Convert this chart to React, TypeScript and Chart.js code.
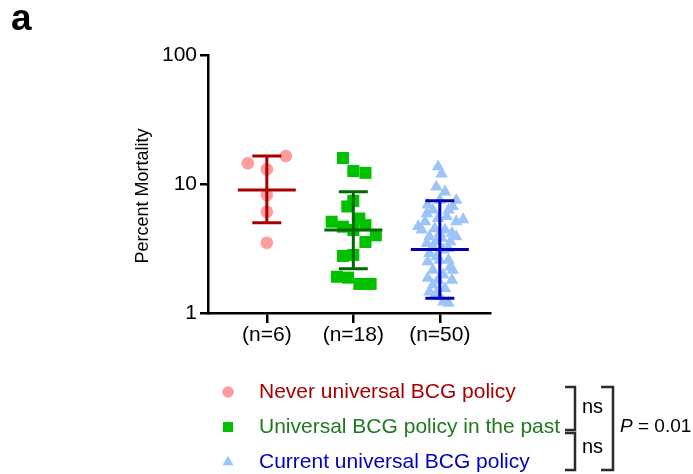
import React, { useEffect, useRef } from 'react';
import { Chart, registerables } from 'chart.js';

Chart.register(...registerables);

const FONT = "'Liberation Sans', Arial, sans-serif";

// Categories / tick labels
const categories = ['(n=6)', '(n=18)', '(n=50)'];
const yTickValues = [1, 10, 100];
const yTitle = 'Percent Mortality';
const panelLabel = 'a';

// Series: values (percent mortality) and horizontal jitter (in category units)
const neverValues = [14.5, 16.5, 13.0, 8.2, 6.1, 3.5];
const neverJitter = [-0.22, 0.22, 0, 0, 0, 0];

const pastValues = [15.9, 12.6, 12.2, 7.4, 6.7, 5.1, 5.4, 4.67, 4.8, 4.4, 4.0, 3.55, 2.77, 2.82, 1.91, 1.88, 1.68, 1.68];
const pastJitter = [-0.12, 0, 0.14, 0, -0.07, -0.25, 0.07, -0.12, 0.14, 0, 0.26, 0.14, -0.12, 0, -0.19, -0.06, 0.07, 0.2];

const currentValues = [
  13.6, 12.0, 9.5, 8.7, 7.5, 6.9, 6.3, 6.3, 6.7, 5.3,
  5.1, 4.7, 5.1, 4.5, 4.4, 4.15, 3.9, 3.8, 3.57, 3.27,
  3.08, 2.9, 2.73, 2.57, 2.28, 2.15, 1.97, 1.86, 1.8, 1.65,
  1.46, 1.34, 1.19, 1.22, 7.5, 5.9, 5.6, 5.4, 4.4, 4.15,
  3.9, 3.57, 3.47, 3.17, 2.57, 2.5, 2.15, 1.8, 1.55, 1.42,
];
const currentJitter = [
  -0.02, 0.02, -0.04, 0.06, 0.19, -0.14, -0.08, 0.1, 0.15, 0.27,
  0.19, -0.25, -0.17, -0.06, 0.06, 0.14, -0.12, 0.02, 0.12, -0.08,
  0.04, -0.12, -0.04, 0.1, 0.12, -0.08, 0.04, -0.14, 0.14, -0.08,
  -0.12, 0, 0.1, 0.04, 0, -0.15, 0.08, -0.02, -0.21, 0,
  0.19, -0.04, -0.15, 0.1, 0, -0.14, 0.15, -0.02, 0.06, -0.04,
];

// Summary: centre line and error bars
const groupMeans = [9.0, 4.4, 3.1];
const groupUpper = [16.5, 8.7, 7.4];
const groupLower = [5.0, 2.2, 1.3];

// Legend and comparisons
const legendLabels = ['Never universal BCG policy', 'Universal BCG policy in the past', 'Current universal BCG policy'];
const pairComparisons = ['ns', 'ns'];
const overallP = '0.01';

const markerColors = ['#FF9C9C', '#00C000', '#9CC4F8'];
const barColors = ['#A80000', '#006A00', '#0000B0'];
const textColors = ['#A80000', '#1F7A1F', '#0000C0'];
const pointStyles = ['circle', 'rect', 'triangle'];
const pointRadii = [6.3, 8.5, 7.2];

const seriesValues = [neverValues, pastValues, currentValues];
const seriesJitter = [neverJitter, pastJitter, currentJitter];

function drawMarker(ctx: CanvasRenderingContext2D, style: string, x: number, y: number, color: string) {
  ctx.fillStyle = color;
  ctx.beginPath();
  if (style === 'circle') {
    ctx.arc(x, y, 5.8, 0, Math.PI * 2);
  } else if (style === 'rect') {
    ctx.rect(x - 5, y - 5, 10, 10);
  } else {
    const r = 6.3;
    ctx.moveTo(x, y - r);
    ctx.lineTo(x + r * Math.sin((2 * Math.PI) / 3), y + r / 2);
    ctx.lineTo(x - r * Math.sin((2 * Math.PI) / 3), y + r / 2);
    ctx.closePath();
  }
  ctx.fill();
}

const overlayPlugin = {
  id: 'overlay',
  afterDatasetsDraw(chart: any) {
    const { ctx } = chart;
    const xs = chart.scales.x;
    const ys = chart.scales.y;
    ctx.save();
    ctx.lineWidth = 3;
    ctx.lineCap = 'butt';
    groupMeans.forEach((m, i) => {
      const cx = xs.getPixelForValue(i + 1);
      const ym = ys.getPixelForValue(m);
      const yu = ys.getPixelForValue(groupUpper[i]);
      const yl = ys.getPixelForValue(groupLower[i]);
      ctx.strokeStyle = barColors[i];
      ctx.beginPath();
      ctx.moveTo(cx, yu);
      ctx.lineTo(cx, yl);
      ctx.moveTo(cx - 14.5, yu);
      ctx.lineTo(cx + 14.5, yu);
      ctx.moveTo(cx - 14.5, yl);
      ctx.lineTo(cx + 14.5, yl);
      ctx.moveTo(cx - 29, ym);
      ctx.lineTo(cx + 29, ym);
      ctx.stroke();
    });
    ctx.restore();
  },
  afterDraw(chart: any) {
    const { ctx } = chart;
    ctx.save();
    // panel label
    ctx.fillStyle = '#000';
    ctx.font = `bold 37px ${FONT}`;
    ctx.textAlign = 'left';
    ctx.textBaseline = 'alphabetic';
    ctx.fillText(panelLabel, 11, 30);

    // y-axis title
    ctx.save();
    ctx.translate(143.5, 196);
    ctx.rotate(-Math.PI / 2);
    ctx.font = `18px ${FONT}`;
    ctx.textAlign = 'center';
    ctx.textBaseline = 'middle';
    ctx.fillText(yTitle, 0, 0);
    ctx.restore();

    // legend
    const rowsY = [392, 427, 462];
    ctx.font = `21px ${FONT}`;
    ctx.textAlign = 'left';
    ctx.textBaseline = 'middle';
    legendLabels.forEach((lab, i) => {
      drawMarker(ctx, pointStyles[i], 228, rowsY[i], markerColors[i]);
      ctx.fillStyle = textColors[i];
      ctx.fillText(lab, 259, rowsY[i]);
    });

    // brackets
    ctx.strokeStyle = '#2b2b2b';
    ctx.lineWidth = 2.5;
    ctx.lineCap = 'butt';
    ctx.lineJoin = 'miter';
    const bracket = (x0: number, x1: number, y0: number, y1: number) => {
      ctx.beginPath();
      ctx.moveTo(x0, y0);
      ctx.lineTo(x1, y0);
      ctx.lineTo(x1, y1);
      ctx.lineTo(x0, y1);
      ctx.stroke();
    };
    bracket(565, 575, 387, 430);
    bracket(565, 575, 433, 470);
    bracket(601, 613, 387, 470);

    ctx.fillStyle = '#000';
    ctx.font = `20px ${FONT}`;
    ctx.textAlign = 'left';
    ctx.fillText(pairComparisons[0], 582, 407);
    ctx.fillText(pairComparisons[1], 582, 447);

    ctx.font = `italic 19px ${FONT}`;
    ctx.fillText('P', 620, 427);
    const pw = ctx.measureText('P').width;
    ctx.font = `19px ${FONT}`;
    ctx.fillText(` = ${overallP}`, 620 + pw, 427);
    ctx.restore();
  },
};

export default function App() {
  const canvasRef = useRef<HTMLCanvasElement | null>(null);

  useEffect(() => {
    if (!canvasRef.current) return;
    Chart.defaults.font.family = FONT;
    const datasets = seriesValues.map((vals, s) => ({
      label: legendLabels[s],
      data: vals.map((v, i) => ({ x: s + 1 + seriesJitter[s][i], y: v })),
      pointStyle: pointStyles[s] as any,
      pointRadius: pointRadii[s],
      pointBackgroundColor: markerColors[s],
      pointBorderWidth: 0,
      backgroundColor: markerColors[s],
      borderColor: markerColors[s],
      borderWidth: 0,
      showLine: false,
    }));

    const chart = new Chart(canvasRef.current, {
      type: 'scatter',
      data: { datasets },
      options: {
        responsive: false,
        animation: false,
        devicePixelRatio: 1,
        layout: { padding: { left: 0, top: 55, right: 203, bottom: 0 } },
        plugins: { legend: { display: false }, tooltip: { enabled: false } },
        scales: {
          x: {
            type: 'linear',
            min: 0.32,
            max: 3.58,
            afterBuildTicks: (s: any) => {
              s.ticks = categories.map((_, i) => ({ value: i + 1 }));
            },
            afterFit: (s: any) => {
              s.height = 161;
            },
            ticks: {
              callback: (v: any) => categories[Math.round(Number(v)) - 1] ?? '',
              font: { size: 21, family: FONT },
              color: '#000',
              padding: 0,
              maxRotation: 0,
              autoSkip: false,
            },
            grid: { display: true, drawOnChartArea: false, drawTicks: true, tickLength: 10, color: '#000', lineWidth: 2.5 },
            border: { display: true, color: '#000', width: 2.5 },
          },
          y: {
            type: 'logarithmic',
            min: 1,
            max: 100,
            afterBuildTicks: (s: any) => {
              s.ticks = yTickValues.map((v) => ({ value: v }));
            },
            afterFit: (s: any) => {
              s.width = 208;
            },
            ticks: {
              callback: (v: any) => String(v),
              font: { size: 21, family: FONT },
              color: '#000',
              padding: 3,
              autoSkip: false,
            },
            grid: { display: true, drawOnChartArea: false, drawTicks: true, tickLength: 8, color: '#000', lineWidth: 2.5 },
            border: { display: true, color: '#000', width: 2.5 },
            title: { display: false },
          },
        },
      },
      plugins: [overlayPlugin],
    } as any);

    return () => chart.destroy();
  }, []);

  return (
    <div style={{ position: 'absolute', left: 0, top: 0, width: 693, height: 474, background: '#fff' }}>
      <canvas ref={canvasRef} width={693} height={474} style={{ width: 693, height: 474 }} />
    </div>
  );
}
